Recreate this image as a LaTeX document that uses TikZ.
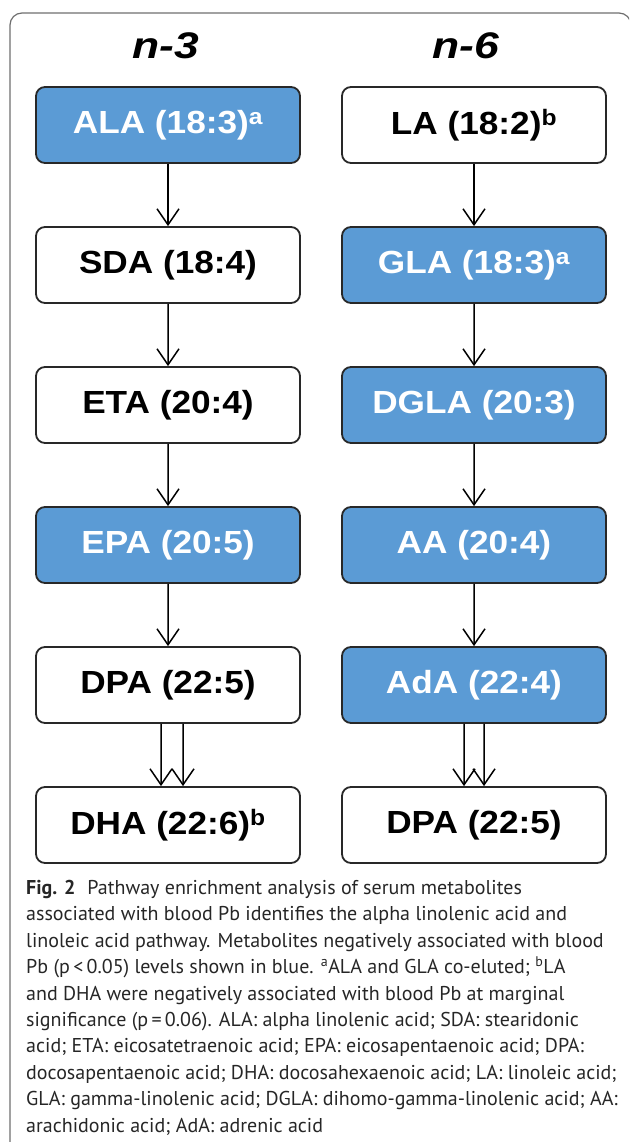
\documentclass[tikz,border=0pt]{standalone}
\usepackage{fontspec}
\setmainfont{PT Sans}
\newfontfamily\boxfont[FakeStretch=1.1]{Liberation Sans}
\newfontfamily\headfont[FakeStretch=1.2]{Liberation Sans}
\usetikzlibrary{arrows.meta}
\definecolor{hitblue}{RGB}{91,155,213}
\definecolor{boxline}{RGB}{40,40,40}
\definecolor{framegray}{RGB}{110,110,110}

\begin{document}
\begin{tikzpicture}[x=1pt,y=1pt,
    acid/.style={draw=boxline,line width=1.8pt,rounded corners=9pt,
      minimum width=264pt,minimum height=76pt,inner sep=0pt,
      font=\boxfont\bfseries\fontsize{32}{32}\selectfont},
    hit/.style={acid,fill=hitblue,text=white},
    miss/.style={acid,fill=white},
    head/.style={inner sep=0pt,font=\headfont\bfseries\itshape\fontsize{37}{37}\selectfont},
    flow/.style={line width=1.5pt,-{Straight Barb[length=16pt,width=22pt,line width=1.5pt]}},
    grow=down,level distance=140pt,
    edge from parent/.style={draw,flow}]
  \useasboundingbox (0,0) rectangle (629,-1142);
  \begin{scope}
    \clip (0,0) rectangle (629,-1142);
    \draw[framegray,line width=1.2pt,rounded corners=12pt]
      (10,-1160) -- (10,-13) -- (631,-13) -- (631,-1160);
  \end{scope}

  \node[head] (omega3) at (166,-46) {n-3};
  \node[head] (omega6) at (466,-46) {n-6};

  \node[hit] (ala) at (168,-125) {ALA (18:3)\textsuperscript{a}}
    child {node[miss] (sda) {SDA (18:4)}
      child {node[miss] (eta) {ETA (20:4)}
        child {node[hit] (epa) {EPA (20:5)}
          child {node[miss] (dpa3) {DPA (22:5)}
            child {node[miss] (dha) {DHA (22:6)\textsuperscript{b}}
              edge from parent[draw=none]}}}}};

  \node[miss] (la) at (474,-125) {LA (18:2)\textsuperscript{b}}
    child {node[hit] (gla) {GLA (18:3)\textsuperscript{a}}
      child {node[hit] (dgla) {DGLA (20:3)}
        child {node[hit] (aa) {AA (20:4)}
          child {node[hit] (ada) {AdA (22:4)}
            child {node[miss] (dpa6) {DPA (22:5)}
              edge from parent[draw=none]}}}}};

  \draw[flow] ([xshift=-7pt]dpa3.south) -- ([xshift=-7pt]dha.north);
  \draw[flow] ([xshift=15pt]dpa3.south) -- ([xshift=15pt]dha.north);
  \draw[flow] ([xshift=-10pt]ada.south) -- ([xshift=-10pt]dpa6.north);
  \draw[flow] ([xshift=10pt]ada.south) -- ([xshift=10pt]dpa6.north);

  \node[anchor=north west,align=left,inner sep=0pt,text=black!85,
    font=\fontsize{20}{26.4}\selectfont] (caption) at (26,-880)
    {\textbf{Fig. 2}\hspace{0.6em}Pathway enrichment analysis of serum metabolites\\
     associated with blood Pb identifies the alpha linolenic acid and\\
     linoleic acid pathway. Metabolites negatively associated with blood\\
     Pb (p\,<\,0.05) levels shown in blue. \textsuperscript{a}ALA and GLA co-eluted; \textsuperscript{b}LA\\
     and DHA were negatively associated with blood Pb at marginal\\
     significance (p\,=\,0.06). ALA: alpha linolenic acid; SDA: stearidonic\\
     acid; ETA: eicosatetraenoic acid; EPA: eicosapentaenoic acid; DPA:\\
     docosapentaenoic acid; DHA: docosahexaenoic acid; LA: linoleic acid;\\
     GLA: gamma-linolenic acid; DGLA: dihomo-gamma-linolenic acid; AA:\\
     arachidonic acid; AdA: adrenic acid};
\end{tikzpicture}
\end{document}
